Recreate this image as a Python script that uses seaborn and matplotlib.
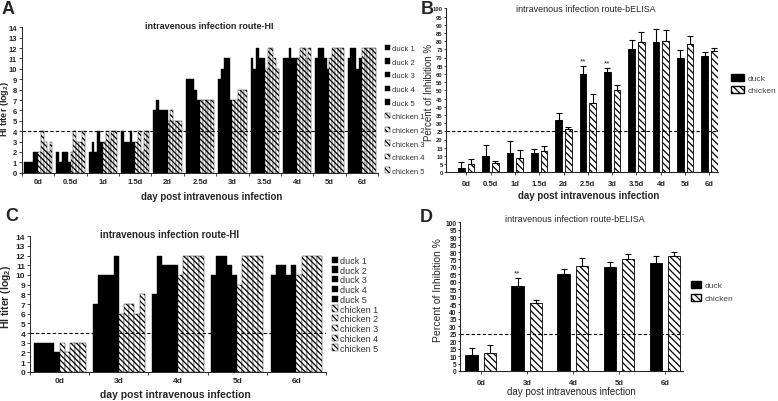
import numpy as np
import pandas as pd
import seaborn as sns
import matplotlib
matplotlib.use('Agg')
import matplotlib.pyplot as plt
from matplotlib.patches import Patch

sns.set_style('ticks')
plt.rcParams['font.family'] = ['Liberation Sans', 'DejaVu Sans']
plt.rcParams['mathtext.default'] = 'regular'
plt.rcParams['hatch.linewidth'] = 0.9

# ---- data ----
# panel A: HI titer (log2), five ducks and five chickens per day
days_a = ['0d', '0.5d', '1d', '1.5d', '2d', '2.5d', '3d', '3.5d', '4d', '5d', '6d']
duck_a = [[1, 1, 1, 2, 2], [2, 1, 2, 2, 1], [2, 3, 2, 4, 3], [4, 3, 3, 4, 3],
          [6, 7, 6, 6, 6], [9, 9, 9, 8, 7], [9, 10, 11, 11, 7], [11, 10, 12, 11, 11],
          [11, 11, 12, 11, 11], [11, 12, 12, 11, 10], [11, 12, 12, 10, 11]]
chicken_a = [[2, 4, 3, 2, 3], [2, 4, 3, 3, 4], [3, 4, 3, 4, 4], [3, 4, 2, 4, 4],
             [5, 6, 5, 5, 5], [7, 7, 7, 7, 7], [7, 7, 8, 8, 8], [10, 12, 12, 11, 10],
             [11, 12, 12, 11, 12], [11, 12, 12, 12, 12], [12, 12, 12, 12, 12]]

# panel B: bELISA percent inhibition (mean, upper error)
days_b = days_a
duck_b = [2.5, 10, 12, 12, 32, 60, 61, 75, 79.5, 70, 70.7]
duck_b_err = [3.5, 6.5, 7, 2.5, 4, 5, 2.5, 5.5, 8, 4.6, 2.9]
chicken_b = [5, 5.5, 9, 13, 26.5, 42, 50, 79.3, 80, 78.3, 73.8]
chicken_b_err = [3, 1.5, 4.5, 3, 1, 6, 3.5, 6, 6.8, 4.7, 1.8]
stars_b = ['2.5d', '3d']

# panel C: HI titer (log2)
days_c = ['0d', '3d', '4d', '5d', '6d']
duck_c = [[3, 3, 3, 3, 2], [7, 10, 10, 10, 12], [8, 12, 11, 11, 11],
          [10, 12, 12, 11, 10], [10, 11, 11, 10, 11]]
chicken_c = [[3, 2, 3, 3, 3], [6, 7, 7, 6, 8], [10, 12, 12, 12, 12],
             [9, 12, 12, 12, 12], [10, 12, 12, 12, 12]]

# panel D: bELISA percent inhibition
days_d = days_c
duck_d = [10.8, 57, 65.2, 70.2, 72.6]
duck_d_err = [4.7, 5.8, 3.2, 2.9, 4.8]
chicken_d = [11.9, 45.5, 70.9, 75.3, 77.4]
chicken_d_err = [5.6, 2.3, 5.1, 3.4, 2.9]
stars_d = ['3d']

ducks = ['duck %d' % i for i in range(1, 6)]
chickens = ['chicken %d' % i for i in range(1, 6)]
birds = ducks + chickens
bird_colors = ['black'] * 5 + ['white'] * 5
HATCH = '\\\\\\\\\\\\'
EL_HATCH = '\\\\\\\\\\'

W, H = 778, 402
fig = plt.figure(figsize=(W / 100, H / 100), dpi=100)


def fx(px):
    return px / W


def fy(py):
    return 1 - py / H


def hi_panel(ax, days, duck, chicken, tick_fs):
    rows = []
    for d, dv, cv in zip(days, duck, chicken):
        for b, v in zip(birds, list(dv) + list(cv)):
            rows.append({'day': d, 'bird': b, 'titer': v})
    df = pd.DataFrame(rows)
    sns.barplot(data=df, x='day', y='titer', hue='bird', order=days, hue_order=birds,
                palette=bird_colors, saturation=1, width=0.875, gap=0, ax=ax,
                edgecolor='black', linewidth=0.3, legend=False, errorbar=None)
    for cont in ax.containers[5:]:
        for p in cont:
            p.set_hatch(HATCH)
    ax.axhline(4, color='black', lw=0.8, ls=(0, (3, 2)), zorder=5)
    ax.set_ylim(0, 14)
    ax.set_yticks(range(15))
    ax.set_xlim(-0.5, len(days) - 0.5)
    ax.set_xticks(np.arange(len(days) + 1) - 0.5)
    ax.set_xticklabels([])
    ax.set_xticks(range(len(days)), minor=True)
    ax.set_xticklabels(days, minor=True)
    ax.tick_params(axis='x', which='major', length=2.5, width=0.6, direction='out')
    ax.tick_params(axis='x', which='minor', length=0, pad=4, labelsize=tick_fs)
    ax.tick_params(axis='y', length=2, width=0.6, pad=1.5, labelsize=tick_fs)
    for t in ax.get_xticklabels(minor=True) + ax.get_yticklabels():
        t.set_fontweight('bold')
    ax.set_xlabel('')
    ax.set_ylabel('')
    sns.despine(ax=ax)
    for s in ['left', 'bottom']:
        ax.spines[s].set_linewidth(0.7)


def elisa_panel(ax, days, duck, duck_err, chicken, chicken_err, stars, xlim, yfs):
    n = len(days)
    df = pd.DataFrame({'day': days * 2,
                       'bird': ['duck'] * n + ['chicken'] * n,
                       'pi': duck + chicken})
    sns.barplot(data=df, x='day', y='pi', hue='bird', order=days,
                hue_order=['duck', 'chicken'], palette=['black', 'white'],
                saturation=1, width=0.8, gap=0.33, ax=ax, edgecolor='black',
                linewidth=0.6, legend=False, errorbar=None)
    for p in ax.containers[1]:
        p.set_hatch(EL_HATCH)
    xs_all = []
    for cont, vals, errs in zip(ax.containers[:2], [duck, chicken], [duck_err, chicken_err]):
        xs = [p.get_x() + p.get_width() / 2 for p in cont]
        xs_all.append(xs)
        ax.errorbar(xs, vals, yerr=[np.zeros(n), errs], fmt='none', ecolor='black',
                    elinewidth=0.8, capsize=2, capthick=0.8, zorder=4)
    for d in stars:
        i = days.index(d)
        ax.text(xs_all[0][i], duck[i] + duck_err[i] + 1, '**', ha='center',
                va='bottom', fontsize=6)
    ax.axhline(25, color='black', lw=0.8, ls=(0, (3, 2)), zorder=5, clip_on=False)
    ax.set_ylim(0, 100)
    ax.set_yticks(range(0, 101, 5))
    ax.set_xlim(*xlim)
    ax.tick_params(axis='x', length=2.5, width=0.6, pad=3, labelsize=5.5)
    ax.tick_params(axis='y', length=1.5, width=0.6, pad=0.8, labelsize=yfs)
    for t in ax.get_xticklabels() + ax.get_yticklabels():
        t.set_fontweight('bold')
    ax.set_xlabel('')
    ax.set_ylabel('')
    sns.despine(ax=ax)
    for s in ['left', 'bottom']:
        ax.spines[s].set_linewidth(0.8)


# ---- A ----
ax_a = fig.add_axes([fx(22), fy(173.7), fx(356), 145.4 / H])
hi_panel(ax_a, days_a, duck_a, chicken_a, 5.5)

# ---- B ----
ax_b = fig.add_axes([fx(446), fy(173.3), fx(272), 164 / H])
elisa_panel(ax_b, days_b, duck_b, duck_b_err, chicken_b, chicken_b_err, stars_b,
            (-0.83, 10.35), 4.2)

# ---- C ----
ax_c = fig.add_axes([fx(30), fy(372.7), fx(296), 135.4 / H])
hi_panel(ax_c, days_c, duck_c, chicken_c, 6)

# ---- D ----
ax_d = fig.add_axes([fx(460), fy(372), fx(223), 148.7 / H])
elisa_panel(ax_d, days_d, duck_d, duck_d_err, chicken_d, chicken_d_err, stars_d,
            (-0.45, 4.39), 4.8)

# panel letters
for letter, x, y in [('A', 2, 10), ('B', 421, 10), ('C', 5, 216.7), ('D', 420, 217.5)]:
    fig.text(fx(x), fy(y), letter, ha='left', va='center', fontsize=13, fontweight='bold')

# titles
fig.text(fx(209), fy(26.7), 'intravenous infection route-HI', ha='center', va='center',
         fontsize=6.5, fontweight='bold')
fig.text(fx(586), fy(10), 'intravenous infection route-bELISA', ha='center', va='center',
         fontsize=6.5)
fig.text(fx(170), fy(235), 'intravenous infection route-HI', ha='center', va='center',
         fontsize=7, fontweight='bold')
fig.text(fx(575), fy(220), 'intravenous infection route-bELISA', ha='center', va='center',
         fontsize=6.5)

# x labels
fig.text(fx(212), fy(196.7), 'day post intravenous infection', ha='center', va='center',
         fontsize=7, fontweight='bold')
fig.text(fx(589), fy(196), 'day post intravenous infection', ha='center', va='center',
         fontsize=7, fontweight='bold')
fig.text(fx(175), fy(395.5), 'day post intravenous infection', ha='center', va='center',
         fontsize=7.5, fontweight='bold')
fig.text(fx(571.7), fy(392.3), 'day post intravenous infection', ha='center', va='center',
         fontsize=7)

# y labels
fig.text(fx(5), fy(109), 'HI titer (log$_2$)', rotation=90, ha='center', va='center',
         fontsize=6.5, fontweight='bold')
fig.text(fx(429), fy(92.5), 'Percent of Inhibition %', rotation=90, ha='center',
         va='center', fontsize=7)
fig.text(fx(6.3), fy(296.7), 'HI titer (log$_2$)', rotation=90, ha='center', va='center',
         fontsize=7.5, fontweight='bold')
fig.text(fx(438.3), fy(290.5), 'Percent of Inhibition %', rotation=90, ha='center',
         va='center', fontsize=7.5)

# legends
hi_handles = [Patch(facecolor='black', edgecolor='black', lw=0.3) for _ in ducks] + \
             [Patch(facecolor='white', edgecolor='black', lw=0.3, hatch=HATCH) for _ in chickens]
fig.legend(hi_handles, birds, loc='center left', bbox_to_anchor=(fx(385), fy(110.8)),
           frameon=False, fontsize=5.5, handlelength=0.7, handleheight=0.7,
           handletextpad=0.2, labelspacing=0.82, borderpad=0, borderaxespad=0,
           labelcolor='#333333')
fig.legend(hi_handles, birds, loc='center left', bbox_to_anchor=(fx(332), fy(305.3)),
           frameon=False, fontsize=6.5, handlelength=0.7, handleheight=0.7,
           handletextpad=0.2, labelspacing=0.08, borderpad=0, borderaxespad=0,
           labelcolor='#333333')

el_handles = [Patch(facecolor='black', edgecolor='black'),
              Patch(facecolor='white', edgecolor='black', hatch=EL_HATCH)]
fig.legend(el_handles, ['duck', 'chicken'], loc='center left',
           bbox_to_anchor=(fx(731), fy(85)), frameon=False, fontsize=6,
           handlelength=1.55, handleheight=0.9, handletextpad=0.4, labelspacing=0.5,
           borderpad=0, borderaxespad=0, labelcolor='#444444')
fig.legend(el_handles, ['duck', 'chicken'], loc='center left',
           bbox_to_anchor=(fx(691), fy(292.5)), frameon=False, fontsize=6,
           handlelength=1.2, handleheight=0.9, handletextpad=0.4, labelspacing=0.5,
           borderpad=0, borderaxespad=0, labelcolor='#444444')

fig.savefig('out.png', dpi=100)
